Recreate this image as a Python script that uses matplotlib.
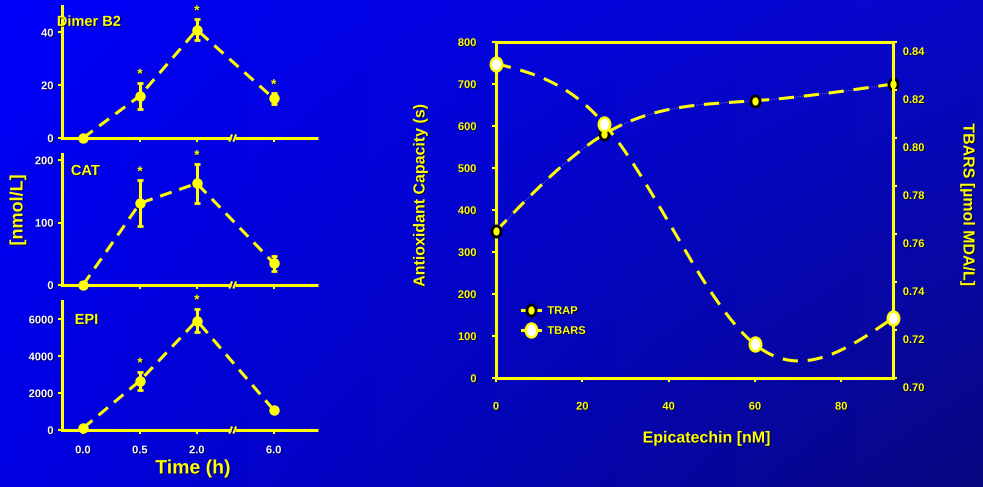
import numpy as np
import matplotlib
matplotlib.use("Agg")
import matplotlib.pyplot as plt
import matplotlib.patheffects as pe
import matplotlib.transforms as mtransforms
from matplotlib.lines import Line2D
from matplotlib.path import Path
from matplotlib.text import Text

plt.rcParams['font.family'] = ['Liberation Sans', 'DejaVu Sans']
plt.rcParams['font.weight'] = 'bold'

YEL = '#ffff00'

# plasma time course
time_labels = ['0.0', '0.5', '2.0', '6.0']
time_pos = [0, 1, 2, 3.35]

dimer_mean = [0, 16, 41, 15]
dimer_err = [0, 5, 4, 2]
dimer_sig = [False, True, True, True]

cat_mean = [0, 131, 163, 35]
cat_err = [0, 37, 31, 12]
cat_sig = [False, True, True, False]

epi_mean = [100, 2670, 5940, 1090]
epi_err = [0, 500, 650, 100]
epi_sig = [False, True, True, False]

# dose response
epicatechin = [0, 25, 60, 92]
trap = [350, 580, 660, 700]
tbars = [0.831, 0.806, 0.714, 0.725]


def natural_spline(x, y, xs):
    x = np.asarray(x, float)
    y = np.asarray(y, float)
    n = len(x)
    h = np.diff(x)
    A = np.zeros((n, n))
    r = np.zeros(n)
    A[0, 0] = A[-1, -1] = 1
    for i in range(1, n - 1):
        A[i, i - 1] = h[i - 1]
        A[i, i] = 2 * (h[i - 1] + h[i])
        A[i, i + 1] = h[i]
        r[i] = 6 * ((y[i + 1] - y[i]) / h[i] - (y[i] - y[i - 1]) / h[i - 1])
    M = np.linalg.solve(A, r)
    i = np.clip(np.searchsorted(x, xs) - 1, 0, n - 2)
    hi = h[i]
    a = x[i + 1] - xs
    b = xs - x[i]
    return (M[i] * a**3 / (6 * hi) + M[i + 1] * b**3 / (6 * hi)
            + (y[i] / hi - M[i] * hi / 6) * a + (y[i + 1] / hi - M[i + 1] * hi / 6) * b)


fig = plt.figure(figsize=(9.83, 4.87), dpi=100)

# blue gradient backdrop
gx = np.linspace(0, 1, 200)[None, :, None]
gy = np.linspace(0, 1, 100)[:, None, None]
TL, TR = np.array([0, 0, 250]), np.array([8, 8, 200])
BL, BR = np.array([0, 0, 228]), np.array([8, 8, 128])
img = (1 - gy) * ((1 - gx) * TL + gx * TR) + gy * ((1 - gx) * BL + gx * BR)
bg = fig.add_axes([0, 0, 1, 1], zorder=-10)
bg.imshow(img / 255.0, aspect='auto', extent=(0, 1, 0, 1), interpolation='bilinear')
bg.axis('off')

panels = [
    ('Dimer B2', dimer_mean, dimer_err, dimer_sig, 50, [0, 20, 40],
     [0.063, 0.7166, 0.260, 0.271], (-0.02, 0.88)),
    ('CAT', cat_mean, cat_err, cat_sig, 210, [0, 100, 200],
     [0.063, 0.4148, 0.260, 0.269], (0.035, 0.87)),
    ('EPI', epi_mean, epi_err, epi_sig, 7000, [0, 2000, 4000, 6000],
     [0.063, 0.117, 0.260, 0.265], (0.05, 0.853)),
]

brk = 0.668
for k, (name, mean, err, sig, top, yt, rect, tpos) in enumerate(panels):
    ax = fig.add_axes(rect, facecolor='none')
    ax.errorbar(time_pos, mean, yerr=err, color=YEL, lw=2.2, ls=(0, (4, 2.6)),
                marker='o', ms=6.5, ecolor=YEL, elinewidth=2.2, capsize=2.5,
                capthick=2, clip_on=False, zorder=3)
    for x, m, e, s in zip(time_pos, mean, err, sig):
        if s:
            ax.annotate('*', (x, m + e), xytext=(0, 1), textcoords='offset points',
                        ha='center', va='bottom', color=YEL, fontsize=10,
                        annotation_clip=False)
    ax.set_xlim(-0.37, 4.12)
    ax.set_ylim(0, top)
    ax.set_yticks(yt)
    ax.set_xticks(time_pos)
    ax.set_xticklabels(time_labels if k == 2 else [])
    for s in ['top', 'right', 'bottom']:
        ax.spines[s].set_visible(False)
    ax.spines['left'].set_color(YEL)
    ax.spines['left'].set_linewidth(2.2)
    # broken time axis with slanted ends
    ax.plot([0, brk - 0.008], [0, 0], color=YEL, lw=2.2, transform=ax.transAxes,
            clip_on=False, solid_capstyle='butt')
    ax.plot([brk + 0.008, 1], [0, 0], color=YEL, lw=2.2, transform=ax.transAxes,
            clip_on=False, solid_capstyle='butt')
    for xb in (brk - 0.012, brk + 0.004):
        ax.plot([xb, xb + 0.008], [-0.02, 0.02], color=YEL, lw=1.5,
                transform=ax.transAxes, clip_on=False)
    ax.tick_params(colors=YEL, labelcolor='white', length=3, width=1.5, labelsize=8)
    ax.tick_params(axis='y', pad=3)
    ax.tick_params(axis='x', pad=8)
    ax.text(tpos[0], tpos[1], name, transform=ax.transAxes, color=YEL,
            fontsize=10.5, ha='left', va='center')

fig.text(18 / 983, 1 - 210 / 487, '[nmol/L]', rotation=90, color=YEL,
         fontsize=13, ha='center', va='center')
fig.text(193 / 983, 1 - 469 / 487, 'Time (h)', color=YEL, fontsize=14,
         ha='center', va='center')

# antioxidant capacity vs TBARS
ax = fig.add_axes([0.5046, 0.2238, 0.4039, 0.690], facecolor='none')
ax2 = ax.twinx()
xs = np.linspace(epicatechin[0], epicatechin[-1], 300)

ell = Path.unit_circle().transformed(mtransforms.Affine2D().scale(0.82, 1.0))

ax.plot(xs, natural_spline(epicatechin, trap, xs), color=(0.55, 0.55, 0.85),
        lw=0.6, ls=':')
ax.plot(xs, natural_spline(epicatechin, trap, xs), color=YEL, lw=2.2,
        ls=(0, (5, 3.2)))
ax.plot(epicatechin, trap, ls='none', marker=ell, ms=8, mfc=YEL, mec='black',
        mew=2, clip_on=False, zorder=5)
ax2.plot(xs, natural_spline(epicatechin, tbars, xs), color=YEL, lw=2.2,
         ls=(0, (5, 3.2)))
ax2.plot(epicatechin, tbars, ls='none', marker=ell, ms=10, mfc='white', mec=YEL,
         mew=1.8, clip_on=False, zorder=5)

ax.set_xlim(0, 92)
ax.set_ylim(0, 800)
ax.set_xticks([0, 20, 40, 60, 80])
ax.set_yticks(range(0, 801, 100))
ax2.set_ylim(0.70, 0.84)
ax2.set_yticks(np.arange(0.70, 0.8401, 0.02))
ax2.set_yticklabels(['%.2f' % v for v in np.arange(0.70, 0.8401, 0.02)])

for s in ['left', 'top', 'bottom']:
    ax.spines[s].set_color(YEL)
    ax.spines[s].set_linewidth(2.2)
    ax2.spines[s].set_visible(False)
ax.spines['right'].set_visible(False)
ax2.spines['right'].set_color(YEL)
ax2.spines['right'].set_linewidth(2.2)

ax.tick_params(colors=YEL, length=3, width=1.5, labelsize=8)
ax.tick_params(axis='y', pad=11)
ax.tick_params(axis='x', pad=14)
ax2.tick_params(colors=YEL, length=3, width=1.5, labelsize=8, pad=4)

shift = mtransforms.ScaledTranslation(0, -9 / 100, fig.dpi_scale_trans)
for lbl in ax2.get_yticklabels():
    lbl.set_transform(lbl.get_transform() + shift)

h_trap = Line2D([], [], color=YEL, lw=2.2, marker=ell, ms=8, mfc=YEL,
                mec='black', mew=2)
h_tbars = Line2D([], [], color=YEL, lw=2.2, marker=ell, ms=10, mfc='white',
                 mec=YEL, mew=1.8)
ax2.legend([h_trap, h_tbars], ['TRAP', 'TBARS'], loc='center left',
           bbox_to_anchor=(0.065, 0.17), frameon=False, handlelength=1.6,
           handletextpad=0.7, labelspacing=0.9, borderaxespad=0, borderpad=0,
           fontsize=8, labelcolor=YEL)

fig.text(420 / 983, 1 - 195 / 487, 'Antioxidant Capacity (s)', rotation=90,
         color=YEL, fontsize=11.5, ha='center', va='center')
fig.text(968 / 983, 1 - 205 / 487, 'TBARS [µmol MDA/L]', rotation=270,
         color=YEL, fontsize=11.5, ha='center', va='center')
fig.text(707 / 983, 1 - 438 / 487, 'Epicatechin [nM]', color=YEL,
         fontsize=11.5, ha='center', va='center')

shadow = [pe.withSimplePatchShadow(offset=(0.8, -0.8), shadow_rgbFace='black',
                                   alpha=0.6)]
for t in fig.findobj(Text):
    t.set_path_effects(shadow)

fig.savefig('out.png', dpi=100)
